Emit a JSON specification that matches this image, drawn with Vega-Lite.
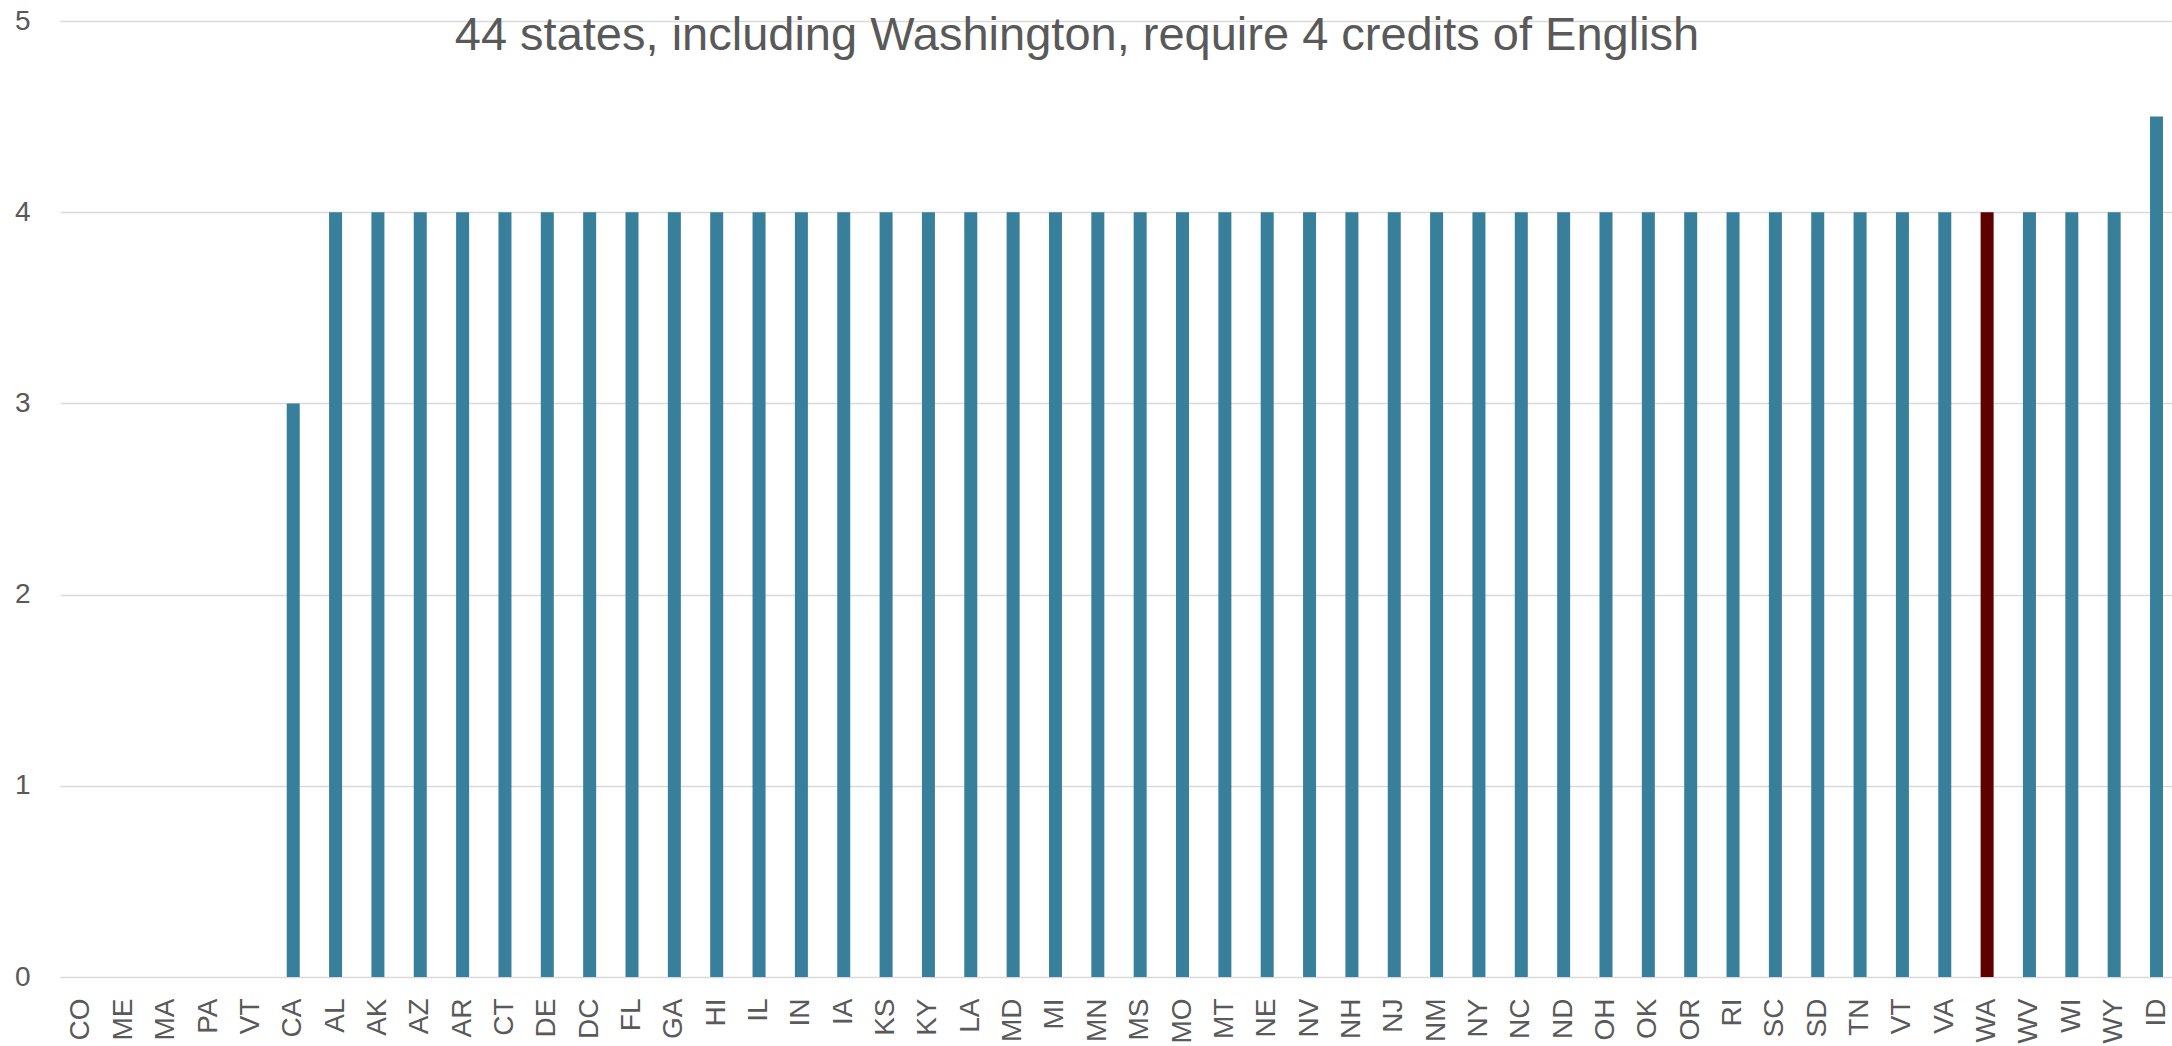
{
  "$schema": "https://vega.github.io/schema/vega-lite/v6.json",
  "autosize": "none",
  "width": 2112,
  "height": 956,
  "padding": {"left": 60, "top": 21, "right": 0, "bottom": 69},
  "background": "white",
  "title": {
    "text": "44 states, including Washington, require 4 credits of English",
    "font": "Liberation Sans",
    "fontSize": 47,
    "fontWeight": "normal",
    "color": "#595959",
    "anchor": "middle",
    "baseline": "alphabetic",
    "offset": -32,
    "dx": -39,
    "dy": 58
  },
  "data": {
    "values": [
      {"state": "CO", "credits": 0, "hl": "no"},
      {"state": "ME", "credits": 0, "hl": "no"},
      {"state": "MA", "credits": 0, "hl": "no"},
      {"state": "PA", "credits": 0, "hl": "no"},
      {"state": "VT", "credits": 0, "hl": "no"},
      {"state": "CA", "credits": 3, "hl": "no"},
      {"state": "AL", "credits": 4, "hl": "no"},
      {"state": "AK", "credits": 4, "hl": "no"},
      {"state": "AZ", "credits": 4, "hl": "no"},
      {"state": "AR", "credits": 4, "hl": "no"},
      {"state": "CT", "credits": 4, "hl": "no"},
      {"state": "DE", "credits": 4, "hl": "no"},
      {"state": "DC", "credits": 4, "hl": "no"},
      {"state": "FL", "credits": 4, "hl": "no"},
      {"state": "GA", "credits": 4, "hl": "no"},
      {"state": "HI", "credits": 4, "hl": "no"},
      {"state": "IL", "credits": 4, "hl": "no"},
      {"state": "IN", "credits": 4, "hl": "no"},
      {"state": "IA", "credits": 4, "hl": "no"},
      {"state": "KS", "credits": 4, "hl": "no"},
      {"state": "KY", "credits": 4, "hl": "no"},
      {"state": "LA", "credits": 4, "hl": "no"},
      {"state": "MD", "credits": 4, "hl": "no"},
      {"state": "MI", "credits": 4, "hl": "no"},
      {"state": "MN", "credits": 4, "hl": "no"},
      {"state": "MS", "credits": 4, "hl": "no"},
      {"state": "MO", "credits": 4, "hl": "no"},
      {"state": "MT", "credits": 4, "hl": "no"},
      {"state": "NE", "credits": 4, "hl": "no"},
      {"state": "NV", "credits": 4, "hl": "no"},
      {"state": "NH", "credits": 4, "hl": "no"},
      {"state": "NJ", "credits": 4, "hl": "no"},
      {"state": "NM", "credits": 4, "hl": "no"},
      {"state": "NY", "credits": 4, "hl": "no"},
      {"state": "NC", "credits": 4, "hl": "no"},
      {"state": "ND", "credits": 4, "hl": "no"},
      {"state": "OH", "credits": 4, "hl": "no"},
      {"state": "OK", "credits": 4, "hl": "no"},
      {"state": "OR", "credits": 4, "hl": "no"},
      {"state": "RI", "credits": 4, "hl": "no"},
      {"state": "SC", "credits": 4, "hl": "no"},
      {"state": "SD", "credits": 4, "hl": "no"},
      {"state": "TN", "credits": 4, "hl": "no"},
      {"state": "VT_2", "credits": 4, "hl": "no"},
      {"state": "VA", "credits": 4, "hl": "no"},
      {"state": "WA", "credits": 4, "hl": "yes"},
      {"state": "WV", "credits": 4, "hl": "no"},
      {"state": "WI", "credits": 4, "hl": "no"},
      {"state": "WY", "credits": 4, "hl": "no"},
      {"state": "ID", "credits": 4.5, "hl": "no"}
    ]
  },
  "mark": {"type": "bar"},
  "encoding": {
    "x": {
      "field": "state",
      "type": "nominal",
      "sort": null,
      "scale": {"range": [0, 2118], "paddingInner": 0.693, "paddingOuter": 0.354},
      "axis": {
        "title": null,
        "labelExpr": "split(datum.value, '_')[0]",
        "labelAngle": -90,
        "labelFont": "Liberation Sans",
        "labelFontSize": 28,
        "labelColor": "#595959",
        "labelPadding": 21,
        "labelOverlap": false,
        "labelBound": false,
        "ticks": false,
        "domain": false,
        "grid": false
      }
    },
    "y": {
      "field": "credits",
      "type": "quantitative",
      "scale": {"domain": [0, 5], "nice": false},
      "axis": {
        "title": null,
        "values": [0, 1, 2, 3, 4, 5],
        "labelFont": "Liberation Sans",
        "labelFontSize": 28,
        "labelColor": "#595959",
        "labelPadding": 30,
        "ticks": false,
        "domain": false,
        "grid": true,
        "gridColor": "#d9d9d9",
        "gridWidth": 1.5
      }
    },
    "color": {
      "field": "hl",
      "type": "nominal",
      "scale": {"domain": ["no", "yes"], "range": ["#387F9C", "#5E0000"]},
      "legend": null
    }
  },
  "config": {"view": {"stroke": null}}
}
